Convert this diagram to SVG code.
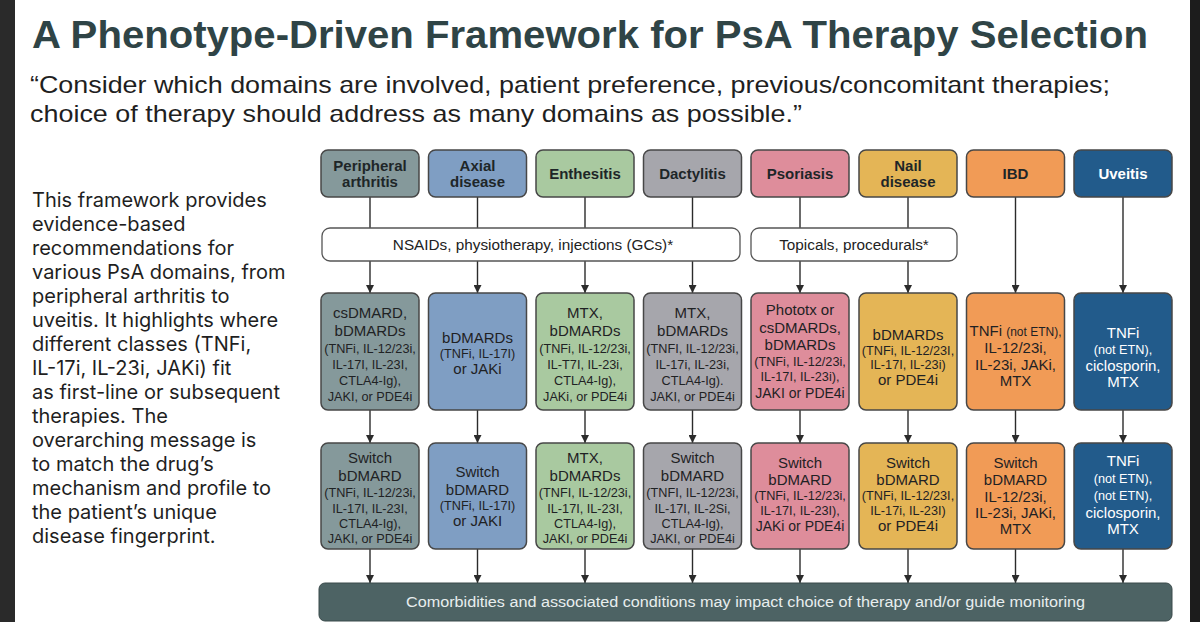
<svg xmlns="http://www.w3.org/2000/svg" width="1200" height="622" viewBox="0 0 1200 622">
<defs>
<marker id="arr" viewBox="0 0 10 10" refX="10" refY="5" markerWidth="8" markerHeight="8" markerUnits="userSpaceOnUse" orient="auto">
<path d="M0,0 L10,5 L0,10 z" fill="#2b2b2b"/>
</marker>
<style>
.t{font-family:"Liberation Sans",Arial,sans-serif;}
.ttl{font-family:"Liberation Sans",Arial,sans-serif;font-weight:bold;font-size:39px;fill:#2f4446;}
.sub{font-family:"Liberation Sans",Arial,sans-serif;font-size:24px;fill:#1f1f1f;}
.para{font-family:"Inter","Liberation Sans",sans-serif;font-size:20px;fill:#1f1f1f;}
.hd{font-family:"Liberation Sans",Arial,sans-serif;font-weight:bold;font-size:15px;fill:#1e2628;text-anchor:middle;}
.box{stroke:#474747;stroke-width:1.5;}
.b{font-family:"Liberation Sans",Arial,sans-serif;font-size:15px;fill:#1f2224;text-anchor:middle;}
.m{font-family:"Liberation Sans",Arial,sans-serif;font-size:14px;fill:#1f2224;text-anchor:middle;}
.s{font-family:"Liberation Sans",Arial,sans-serif;font-size:12.7px;fill:#1f2224;text-anchor:middle;}
.w{fill:#ffffff;}
.conn line{stroke:#2b2b2b;stroke-width:1.4;}
.c1{fill:#85999b;}.c2{fill:#7f9ec3;}.c3{fill:#a9c9a0;}.c4{fill:#a6a6ac;}
.c5{fill:#de8d9b;}.c6{fill:#e4b556;}.c7{fill:#f19b56;}.c8{fill:#225b8b;}
</style>
</defs>
<rect x="0" y="0" width="1200" height="622" fill="#ffffff"/>
<rect x="0" y="0" width="15" height="622" fill="#2a2a2a"/>
<rect x="1190" y="0" width="10" height="622" fill="#1c1c1c"/>

<g id="title">
<text class="ttl" x="32" y="48" textLength="1116" lengthAdjust="spacingAndGlyphs">A Phenotype-Driven Framework for PsA Therapy Selection</text>
<text class="sub" x="30" y="93" textLength="1080" lengthAdjust="spacingAndGlyphs">“Consider which domains are involved, patient preference, previous/concomitant therapies;</text>
<text class="sub" x="30" y="122" textLength="772" lengthAdjust="spacingAndGlyphs">choice of therapy should address as many domains as possible.”</text>
</g>

<g id="description">
<text class="para" x="32" y="207">This framework provides</text>
<text class="para" x="32" y="231">evidence-based</text>
<text class="para" x="32" y="255">recommendations for</text>
<text class="para" x="32" y="279">various PsA domains, from</text>
<text class="para" x="32" y="303">peripheral arthritis to</text>
<text class="para" x="32" y="327">uveitis. It highlights where</text>
<text class="para" x="32" y="351">different classes (TNFi,</text>
<text class="para" x="32" y="375">IL-17i, IL-23i, JAKi) fit</text>
<text class="para" x="32" y="399">as first-line or subsequent</text>
<text class="para" x="32" y="423">therapies. The</text>
<text class="para" x="32" y="447">overarching message is</text>
<text class="para" x="32" y="471">to match the drug’s</text>
<text class="para" x="32" y="495">mechanism and profile to</text>
<text class="para" x="32" y="519">the patient’s unique</text>
<text class="para" x="32" y="543">disease fingerprint.</text>
</g>

<g id="connectors" class="conn">
<line x1="370" y1="197" x2="370" y2="228"/>
<line x1="477.5" y1="197" x2="477.5" y2="228"/>
<line x1="585" y1="197" x2="585" y2="228"/>
<line x1="692.5" y1="197" x2="692.5" y2="228"/>
<line x1="800" y1="197" x2="800" y2="228"/>
<line x1="908" y1="197" x2="908" y2="228"/>
<line x1="370" y1="261" x2="370" y2="293" marker-end="url(#arr)"/>
<line x1="477.5" y1="261" x2="477.5" y2="293" marker-end="url(#arr)"/>
<line x1="585" y1="261" x2="585" y2="293" marker-end="url(#arr)"/>
<line x1="692.5" y1="261" x2="692.5" y2="293" marker-end="url(#arr)"/>
<line x1="800" y1="261" x2="800" y2="293" marker-end="url(#arr)"/>
<line x1="908" y1="261" x2="908" y2="293" marker-end="url(#arr)"/>
<line x1="1015.5" y1="197" x2="1015.5" y2="293" marker-end="url(#arr)"/>
<line x1="1123" y1="197" x2="1123" y2="293" marker-end="url(#arr)"/>
<line x1="370" y1="410" x2="370" y2="443" marker-end="url(#arr)"/>
<line x1="477.5" y1="410" x2="477.5" y2="443" marker-end="url(#arr)"/>
<line x1="585" y1="410" x2="585" y2="443" marker-end="url(#arr)"/>
<line x1="692.5" y1="410" x2="692.5" y2="443" marker-end="url(#arr)"/>
<line x1="800" y1="410" x2="800" y2="443" marker-end="url(#arr)"/>
<line x1="908" y1="410" x2="908" y2="443" marker-end="url(#arr)"/>
<line x1="1015.5" y1="410" x2="1015.5" y2="443" marker-end="url(#arr)"/>
<line x1="1123" y1="410" x2="1123" y2="443" marker-end="url(#arr)"/>
<line x1="370" y1="549" x2="370" y2="583" marker-end="url(#arr)"/>
<line x1="477.5" y1="549" x2="477.5" y2="583" marker-end="url(#arr)"/>
<line x1="585" y1="549" x2="585" y2="583" marker-end="url(#arr)"/>
<line x1="692.5" y1="549" x2="692.5" y2="583" marker-end="url(#arr)"/>
<line x1="800" y1="549" x2="800" y2="583" marker-end="url(#arr)"/>
<line x1="908" y1="549" x2="908" y2="583" marker-end="url(#arr)"/>
<line x1="1015.5" y1="549" x2="1015.5" y2="583" marker-end="url(#arr)"/>
<line x1="1123" y1="549" x2="1123" y2="583" marker-end="url(#arr)"/>
</g>

<!-- headers -->
<g id="h1"><rect class="box c1" x="321" y="150" width="98" height="47" rx="7"/><text class="hd" x="370" y="171">Peripheral</text><text class="hd" x="370" y="187">arthritis</text></g>
<g id="h2"><rect class="box c2" x="428.5" y="150" width="98" height="47" rx="7"/><text class="hd" x="477.5" y="171">Axial</text><text class="hd" x="477.5" y="187">disease</text></g>
<g id="h3"><rect class="box c3" x="536" y="150" width="98" height="47" rx="7"/><text class="hd" x="585" y="179">Enthesitis</text></g>
<g id="h4"><rect class="box c4" x="643.5" y="150" width="98" height="47" rx="7"/><text class="hd" x="692.5" y="179">Dactylitis</text></g>
<g id="h5"><rect class="box c5" x="751" y="150" width="98" height="47" rx="7"/><text class="hd" x="800" y="179">Psoriasis</text></g>
<g id="h6"><rect class="box c6" x="859" y="150" width="98" height="47" rx="7"/><text class="hd" x="908" y="171">Nail</text><text class="hd" x="908" y="187">disease</text></g>
<g id="h7"><rect class="box c7" x="966.5" y="150" width="98" height="47" rx="7"/><text class="hd" x="1015.5" y="179">IBD</text></g>
<g id="h8"><rect class="box c8" x="1074" y="150" width="98" height="47" rx="7"/><text class="hd w" x="1123" y="179">Uveitis</text></g>

<!-- common therapies -->
<g id="nsaids"><rect x="322" y="228" width="418" height="33" rx="8" fill="#ffffff" stroke="#555" stroke-width="1.3"/><text class="t" x="533" y="250" font-size="15.3" fill="#222" text-anchor="middle">NSAIDs, physiotherapy, injections (GCs)*</text></g>
<g id="topicals"><rect x="751" y="228" width="206" height="33" rx="8" fill="#ffffff" stroke="#555" stroke-width="1.3"/><text class="t" x="854" y="250" font-size="15.3" fill="#222" text-anchor="middle">Topicals, procedurals*</text></g>

<!-- first line -->
<g id="m1"><rect class="box c1" x="321" y="293" width="98" height="117" rx="7"/>
<text class="b" x="370" y="318">csDMARD,</text><text class="b" x="370" y="336">bDMARDs</text><text class="s" x="370" y="353">(TNFi, IL-12/23i,</text><text class="s" x="370" y="369">IL-17I, IL-23I,</text><text class="s" x="370" y="385">CTLA4-Ig),</text><text class="s" x="370" y="401">JAKI, or PDE4i</text></g>
<g id="m2"><rect class="box c2" x="428.5" y="293" width="98" height="117" rx="7"/>
<text class="b" x="477.5" y="343">bDMARDs</text><text class="s" x="477.5" y="358">(TNFi, IL-17I)</text><text class="b" x="477.5" y="374">or JAKi</text></g>
<g id="m3"><rect class="box c3" x="536" y="293" width="98" height="117" rx="7"/>
<text class="b" x="585" y="318">MTX,</text><text class="b" x="585" y="336">bDMARDs</text><text class="s" x="585" y="353">(TNFi, IL-12/23i,</text><text class="s" x="585" y="369">IL-T7I, IL-23i,</text><text class="s" x="585" y="385">CTLA4-Ig),</text><text class="s" x="585" y="401">JAKi, or PDE4i</text></g>
<g id="m4"><rect class="box c4" x="643.5" y="293" width="98" height="117" rx="7"/>
<text class="b" x="692.5" y="318">MTX,</text><text class="b" x="692.5" y="336">bDMARDs</text><text class="s" x="692.5" y="353">(TNFI, IL-12/23i,</text><text class="s" x="692.5" y="369">IL-17i, IL-23i,</text><text class="s" x="692.5" y="385">CTLA4-Ig).</text><text class="s" x="692.5" y="401">JAKI, or PDE4i</text></g>
<g id="m5"><rect class="box c5" x="751" y="293" width="98" height="117" rx="7"/>
<text class="b" x="800" y="315">Phototx or</text><text class="b" x="800" y="333">csDMARDs,</text><text class="b" x="800" y="350">bDMARDs</text><text class="s" x="800" y="366">(TNFi, IL-12/23i,</text><text class="s" x="800" y="381">IL-17I, IL-23i),</text><text class="m" x="800" y="398">JAKI or PDE4i</text></g>
<g id="m6"><rect class="box c6" x="859" y="293" width="98" height="117" rx="7"/>
<text class="b" x="908" y="340">bDMARDs</text><text class="s" x="908" y="355">(TNFi, IL-12/23I,</text><text class="s" x="908" y="369">IL-17I, IL-23i)</text><text class="b" x="908" y="385">or PDE4i</text></g>
<g id="m7"><rect class="box c7" x="966.5" y="293" width="98" height="117" rx="7"/>
<text class="b" x="1015.5" y="336">TNFi <tspan font-size="12">(not ETN),</tspan></text><text class="b" x="1015.5" y="353" font-size="16">IL-12/23i,</text><text class="b" x="1015.5" y="370" font-size="16">IL-23i, JAKi,</text><text class="b" x="1015.5" y="386" font-size="16">MTX</text></g>
<g id="m8"><rect class="box c8" x="1074" y="293" width="98" height="117" rx="7"/>
<text class="b w" x="1123" y="338" font-size="16">TNFi</text><text class="s w" x="1123" y="354" font-size="13.5">(not ETN),</text><text class="b w" x="1123" y="371" font-size="15.5">ciclosporin,</text><text class="b w" x="1123" y="387" font-size="15.5">MTX</text></g>

<!-- subsequent -->
<g id="s1"><rect class="box c1" x="321" y="443" width="98" height="106" rx="7"/>
<text class="b" x="370" y="463">Switch</text><text class="b" x="370" y="481">bDMARD</text><text class="s" x="370" y="497">(TNFi, IL-12/23i,</text><text class="s" x="370" y="513">IL-17I, IL-23I,</text><text class="s" x="370" y="528">CTLA4-Ig),</text><text class="s" x="370" y="543">JAKI, or PDE4i</text></g>
<g id="s2"><rect class="box c2" x="428.5" y="443" width="98" height="106" rx="7"/>
<text class="b" x="477.5" y="477">Switch</text><text class="b" x="477.5" y="495">bDMARD</text><text class="s" x="477.5" y="510">(TNFi, IL-17I)</text><text class="b" x="477.5" y="526">or JAKI</text></g>
<g id="s3"><rect class="box c3" x="536" y="443" width="98" height="106" rx="7"/>
<text class="b" x="585" y="463">MTX,</text><text class="b" x="585" y="481">bDMARDs</text><text class="s" x="585" y="497">(TNFI, IL-12/23i,</text><text class="s" x="585" y="513">IL-17I, IL-23I,</text><text class="s" x="585" y="528">CTLA4-Ig),</text><text class="s" x="585" y="543">JAKI, or PDE4i</text></g>
<g id="s4"><rect class="box c4" x="643.5" y="443" width="98" height="106" rx="7"/>
<text class="b" x="692.5" y="463">Switch</text><text class="b" x="692.5" y="481">bDMARD</text><text class="s" x="692.5" y="497">(TNFI, IL-12/23i,</text><text class="s" x="692.5" y="513">IL-17I, IL-2Si,</text><text class="s" x="692.5" y="528">CTLA4-Ig),</text><text class="s" x="692.5" y="543">JAKI, or PDE4i</text></g>
<g id="s5"><rect class="box c5" x="751" y="443" width="98" height="106" rx="7"/>
<text class="b" x="800" y="468">Switch</text><text class="b" x="800" y="485">bDMARD</text><text class="s" x="800" y="500">(TNFi, IL-12/23i,</text><text class="s" x="800" y="515">IL-17I, IL-23I),</text><text class="m" x="800" y="531">JAKi or PDE4i</text></g>
<g id="s6"><rect class="box c6" x="859" y="443" width="98" height="106" rx="7"/>
<text class="b" x="908" y="468">Switch</text><text class="b" x="908" y="485">bDMARD</text><text class="s" x="908" y="500">(TNFi, IL-12/23I,</text><text class="s" x="908" y="515">IL-17i, IL-23I)</text><text class="b" x="908" y="531">or PDE4i</text></g>
<g id="s7"><rect class="box c7" x="966.5" y="443" width="98" height="106" rx="7"/>
<text class="b" x="1015.5" y="468">Switch</text><text class="b" x="1015.5" y="485">bDMARD</text><text class="b" x="1015.5" y="502">IL-12/23i,</text><text class="b" x="1015.5" y="518">IL-23i, JAKi,</text><text class="b" x="1015.5" y="534">MTX</text></g>
<g id="s8"><rect class="box c8" x="1074" y="443" width="98" height="106" rx="7"/>
<text class="b w" x="1123" y="466" font-size="16">TNFi</text><text class="s w" x="1123" y="483" font-size="13.5">(not ETN),</text><text class="s w" x="1123" y="500" font-size="13.5">(not ETN),</text><text class="b w" x="1123" y="518" font-size="15.5">ciclosporin,</text><text class="b w" x="1123" y="534" font-size="15.5">MTX</text></g>

<g id="comorbidities"><rect x="319" y="583" width="853" height="38" rx="6" fill="#4d6364" stroke="#3a4a4b" stroke-width="1"/><text class="t" x="406" y="607" font-size="15.5" fill="#e8eeee" textLength="679" lengthAdjust="spacingAndGlyphs">Comorbidities and associated conditions may impact choice of therapy and/or guide monitoring</text></g>
</svg>
